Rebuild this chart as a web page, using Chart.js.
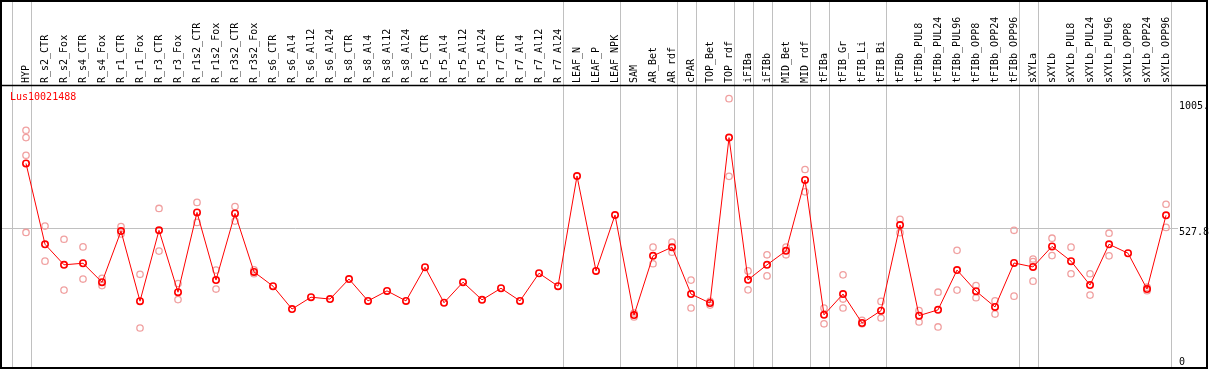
<!DOCTYPE html>
<html>
<head>
<meta charset="utf-8">
<script src="https://cdn.jsdelivr.net/npm/chart.js@4.4.1/dist/chart.umd.min.js"></script>
<style>
  html, body { margin: 0; padding: 0; background: #ffffff; }
  #wrap { width: 1209px; height: 370px; }
</style>
</head>
<body>
<div id="wrap"><canvas id="c" width="1209" height="370"></canvas></div>
<script>
const geneName = "Lus10021488";

const categories = [
  "HYP","R_s2_CTR","R_s2_Fox","R_s4_CTR","R_s4_Fox","R_r1_CTR","R_r1_Fox","R_r3_CTR","R_r3_Fox",
  "R_r1s2_CTR","R_r1s2_Fox","R_r3s2_CTR","R_r3s2_Fox","R_s6_CTR","R_s6_Al4","R_s6_Al12","R_s6_Al24",
  "R_s8_CTR","R_s8_Al4","R_s8_Al12","R_s8_Al24","R_r5_CTR","R_r5_Al4","R_r5_Al12","R_r5_Al24",
  "R_r7_CTR","R_r7_Al4","R_r7_Al12","R_r7_Al24","LEAF_N","LEAF_P","LEAF_NPK","SAM","AR_Bet","AR_rdf",
  "cPAR","TOP_Bet","TOP_rdf","iFIBa","iFIBb","MID_Bet","MID_rdf","tFIBa","tFIB_Gr","tFIB_Li","tFIB_Bi",
  "tFIBb","tFIBb_PUL8","tFIBb_PUL24","tFIBb_PUL96","tFIBb_OPP8","tFIBb_OPP24","tFIBb_OPP96",
  "sXYLa","sXYLb","sXYLb_PUL8","sXYLb_PUL24","sXYLb_PUL96","sXYLb_OPP8","sXYLb_OPP24","sXYLb_OPP96"
];

const means = [
  773, 466, 388, 394, 322, 516, 250, 519, 284,
  587, 330, 583, 361, 307, 220, 265, 258,
  334, 251, 289, 251, 379, 244, 322, 255,
  299, 251, 356, 307, 725, 365, 577, 197, 422, 455,
  277, 243, 871, 331, 388, 441, 710, 198, 277, 167, 214,
  539, 195, 217, 368, 288, 228, 395,
  380, 458, 402, 311, 466, 432, 296, 576
];

const replicates = [
  [899, 871, 804, 511], [535, 402], [485, 292], [456, 334], [337, 309], [533, 505], [352, 148], [602, 440], [317, 256],
  [625, 549], [368, 296], [609, 554], [369, 354], [], [], [], [],
  [], [], [], [], [], [], [], [],
  [], [], [], [], [], [], [], [205, 190], [455, 392], [474, 436],
  [330, 224], [249, 235], [1019, 724], [365, 293], [426, 346], [455, 426], [750, 665], [224, 164], [350, 258, 224], [177, 164], [249, 186],
  [561, 510], [214, 171], [284, 152], [443, 292], [309, 263], [251, 201], [519, 269],
  [410, 400, 326], [489, 423], [455, 354], [354, 273], [508, 422], [], [303, 290], [618, 530]
];

const groupEnds = ["HYP","R_r7_Al24","LEAF_NPK","AR_rdf","cPAR","TOP_rdf","iFIBa","iFIBb",
  "MID_rdf","tFIBa","tFIB_Bi","tFIBb_OPP96","sXYLa","sXYLb_OPP96"];

const yTickValues = [0, 527.8, 1005];
const yTickLabels = ["0", "527.8", "1005."];

const FONT = '"DejaVu Sans Mono", "Liberation Mono", monospace';

const meanPoints = means.map((v, i) => ({ x: i, y: v }));
const repPoints = [];
replicates.forEach((arr, i) => arr.forEach(v => repPoints.push({ x: i, y: v })));
const boundaries = [-1].concat(groupEnds.map(n => categories.indexOf(n)));

const decor = {
  id: 'decor',
  beforeDatasetsDraw(chart) {
    const { ctx, scales: { x } } = chart;
    ctx.save();
    ctx.strokeStyle = '#c0c0c0';
    ctx.lineWidth = 1;
    boundaries.forEach(b => {
      const px = Math.round(x.getPixelForValue(b + 0.237)) + 0.5;
      ctx.beginPath();
      ctx.moveTo(px, 0);
      ctx.lineTo(px, 368);
      ctx.stroke();
    });
    ctx.restore();
  },
  afterDraw(chart) {
    const { ctx, scales: { y }, chartArea } = chart;
    ctx.save();
    ctx.strokeStyle = '#000000';
    ctx.lineWidth = 2;
    ctx.strokeRect(1, 1, 1206, 367);
    ctx.lineWidth = 1.5;
    ctx.beginPath();
    ctx.moveTo(0, chartArea.top - 0.5);
    ctx.lineTo(1208, chartArea.top - 0.5);
    ctx.stroke();
    ctx.font = '10px ' + FONT;
    ctx.fillStyle = '#ff0000';
    ctx.textAlign = 'left';
    ctx.textBaseline = 'middle';
    ctx.fillText(geneName, 10, 97);
    ctx.fillStyle = '#000000';
    yTickValues.forEach((v, i) => {
      const py = Math.min(y.getPixelForValue(v) + 4, y.bottom - 5);
      ctx.fillText(yTickLabels[i], y.left + 1, py);
    });
    ctx.restore();
  }
};

new Chart(document.getElementById('c'), {
  type: 'line',
  data: {
    datasets: [
      {
        label: 'mean',
        data: meanPoints,
        borderColor: '#ff0000',
        borderWidth: 1,
        pointRadius: 3.2,
        pointBorderWidth: 1.6,
        pointBorderColor: '#ff0000',
        pointBackgroundColor: 'rgba(0,0,0,0)',
        tension: 0,
        clip: false,
        order: 1
      },
      {
        label: 'replicates',
        data: repPoints,
        showLine: false,
        pointRadius: 3.2,
        pointBorderWidth: 1.3,
        pointBorderColor: '#f0a0a0',
        pointBackgroundColor: 'rgba(0,0,0,0)',
        clip: false,
        order: 2
      }
    ]
  },
  options: {
    responsive: false,
    animation: false,
    devicePixelRatio: 1,
    layout: { autoPadding: false, padding: { left: 1, right: 2, top: 0, bottom: 3 } },
    plugins: { legend: { display: false }, tooltip: { enabled: false }, title: { display: false } },
    scales: {
      x: {
        type: 'linear',
        position: 'top',
        min: -1.316,
        max: 60.63,
        afterBuildTicks(scale) { scale.ticks = categories.map((c, i) => ({ value: i })); },
        afterFit(scale) { scale.height = 86; scale.paddingLeft = 0; scale.paddingRight = 0; },
        grid: { display: false, drawTicks: false },
        border: { display: false },
        ticks: {
          autoSkip: false,
          maxRotation: 90,
          minRotation: 90,
          padding: 3,
          labelOffset: 12,
          color: '#000000',
          font: { family: FONT, size: 10 },
          callback: (v) => categories[v] ?? ''
        }
      },
      y: {
        type: 'linear',
        position: 'right',
        min: 0,
        max: 1067,
        afterBuildTicks(scale) { scale.ticks = yTickValues.map(v => ({ value: v })); },
        afterFit(scale) { scale.width = 29; scale.paddingTop = 0; scale.paddingBottom = 0; },
        grid: {
          drawTicks: false,
          color: (c) => (c.tick && c.tick.value === 527.8) ? '#c0c0c0' : 'rgba(0,0,0,0)',
          lineWidth: 1
        },
        border: { display: false },
        ticks: { display: false }
      }
    }
  },
  plugins: [decor]
});
</script>
</body>
</html>
